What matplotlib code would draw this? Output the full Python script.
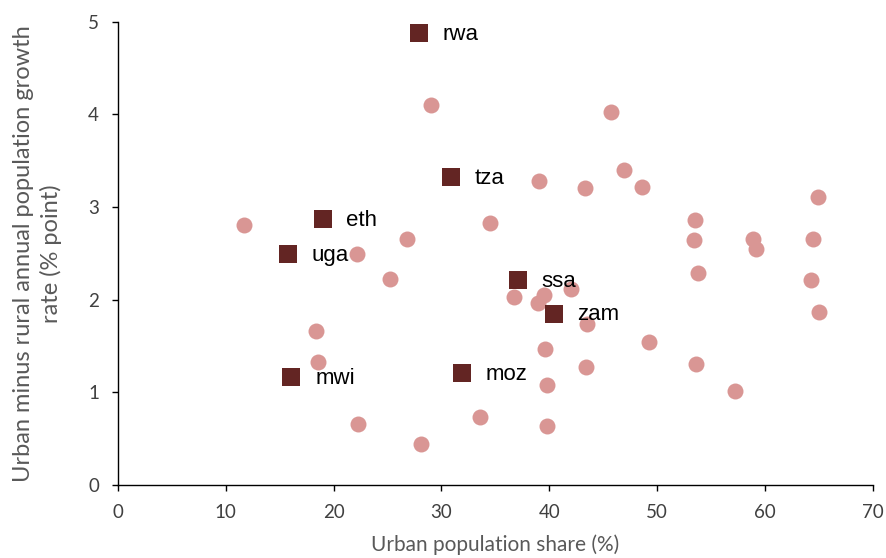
import matplotlib.pyplot as plt

# other countries (circles)
other_x = [29.0, 45.7, 46.9, 39.1, 43.3, 48.6, 64.9, 11.7, 34.5, 26.8,
           53.5, 53.4, 58.9, 59.2, 64.5, 22.2, 25.2, 53.8, 64.3, 36.7,
           39.5, 39.0, 42.0, 43.5, 65.0, 18.4, 18.6, 39.6, 49.3, 43.4,
           53.6, 57.2, 39.8, 22.3, 33.6, 28.1, 39.8]
other_y = [4.10, 4.03, 3.40, 3.28, 3.20, 3.22, 3.11, 2.81, 2.83, 2.65,
           2.86, 2.64, 2.65, 2.55, 2.65, 2.49, 2.22, 2.29, 2.21, 2.03,
           2.05, 1.96, 2.11, 1.74, 1.87, 1.66, 1.33, 1.47, 1.54, 1.27,
           1.31, 1.01, 1.08, 0.66, 0.73, 0.44, 0.64]

# highlighted countries (squares)
hl_names = ['rwa', 'tza', 'eth', 'uga', 'ssa', 'zam', 'mwi', 'moz']
hl_x = [27.9, 30.9, 19.0, 15.8, 37.1, 40.4, 16.1, 31.9]
hl_y = [4.88, 3.32, 2.87, 2.49, 2.21, 1.85, 1.16, 1.21]

fig = plt.figure(figsize=(8.86, 5.58), dpi=100)
ax = fig.add_axes([0.133, 0.131, 0.852, 0.830])

ax.plot(other_x, other_y, 'o', color='#D99694', markersize=11.5,
        markeredgewidth=0, linestyle='None', zorder=2)
ax.plot(hl_x, hl_y, 's', color='#632523', markersize=13.5,
        markeredgewidth=0, linestyle='None', zorder=3)

for name, x, y in zip(hl_names, hl_x, hl_y):
    ax.annotate(name, (x, y), xytext=(17, -1), textcoords='offset points',
                va='center', ha='left', fontsize=16,
                family='Liberation Sans', color='black', zorder=4)

ax.set_xlim(0, 70)
ax.set_ylim(0, 5)
ax.set_xticks(range(0, 71, 10))
ax.set_yticks(range(0, 6))

for s in ['top', 'right']:
    ax.spines[s].set_visible(False)
for s in ['left', 'bottom']:
    ax.spines[s].set_linewidth(1.0)
    ax.spines[s].set_color('black')

ax.tick_params(direction='out', length=4.5, width=1.0, colors='black',
               labelcolor='#404040')
ax.tick_params(axis='x', labelsize=13.5, pad=9)
ax.tick_params(axis='y', labelsize=13.5, pad=9)
for lab in ax.get_xticklabels() + ax.get_yticklabels():
    lab.set_family('Lato')

ax.set_xlabel('Urban population share (%)', fontsize=15, color='#595959',
              family='Lato', labelpad=10)
ax.set_ylabel('Urban minus rural annual population growth\nrate (% point)',
              fontsize=17, color='#595959', family='Lato',
              labelpad=19, linespacing=1.3)

fig.savefig('out.png', dpi=100)
